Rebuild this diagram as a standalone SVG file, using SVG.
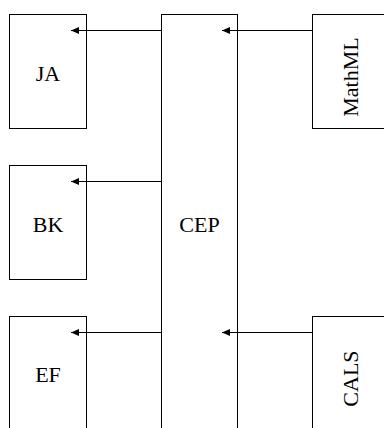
<svg xmlns="http://www.w3.org/2000/svg" width="384" height="428" viewBox="0 0 384 428">
<style>
.box{fill:#fff;stroke:#000;stroke-width:1}
.lbl{font-family:"Liberation Serif","Times New Roman",serif;font-size:22px;fill:#000;text-anchor:middle}
.conn{stroke:#000;stroke-width:1;fill:none;marker-end:url(#ah)}
</style>
<defs>
<marker id="ah" markerUnits="userSpaceOnUse" markerWidth="9" markerHeight="8" refX="8" refY="3.5" orient="auto">
<path d="M0,0 L8,3.5 L0,7 z" fill="#000"/>
</marker>
</defs>
<rect width="384" height="428" fill="#fff"/>
<g id="JA"><rect class="box" x="9.5" y="14.5" width="77" height="114"/><text class="lbl" x="48" y="80.5">JA</text></g>
<g id="BK"><rect class="box" x="9.5" y="165.5" width="77" height="114"/><text class="lbl" x="48" y="231.5">BK</text></g>
<g id="EF"><rect class="box" x="9.5" y="316.5" width="77" height="114"/><text class="lbl" x="48" y="382">EF</text></g>
<g id="CEP"><rect class="box" x="161.5" y="14.5" width="76" height="416"/><text class="lbl" x="199.5" y="231.5">CEP</text></g>
<g id="MathML"><rect class="box" x="312.5" y="14.5" width="77" height="114"/><text class="lbl" transform="translate(358,77) rotate(-90)">MathML</text></g>
<g id="CALS"><rect class="box" x="312.5" y="316.5" width="77" height="114"/><text class="lbl" transform="translate(358,378.5) rotate(-90)">CALS</text></g>
<g id="connectors">
<line class="conn" x1="161.5" y1="30.5" x2="71" y2="30.5"/>
<line class="conn" x1="161.5" y1="181.5" x2="71" y2="181.5"/>
<line class="conn" x1="161.5" y1="332.5" x2="71" y2="332.5"/>
<line class="conn" x1="312.5" y1="30.5" x2="222" y2="30.5"/>
<line class="conn" x1="312.5" y1="332.5" x2="222" y2="332.5"/>
</g>
</svg>
